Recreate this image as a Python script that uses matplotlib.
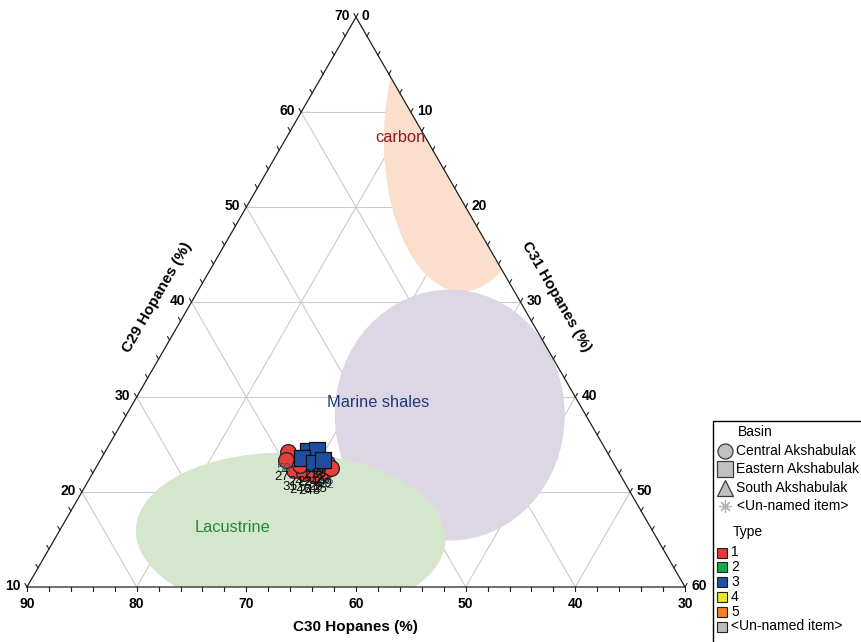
import numpy as np
import matplotlib
matplotlib.use("Agg")
import matplotlib.pyplot as plt
from matplotlib.patches import Ellipse, Polygon, Rectangle

# ---- hopane compositions (%), columns C30 / C29 / C31 ----
central_c30 = [59.1, 56.1, 59.5, 58.7, 57.9, 56.9, 56.0, 59.7, 58.7, 57.1]
central_c29 = [24.2, 23.1, 22.3, 22.0, 21.9, 22.1, 22.5, 23.4, 22.8, 22.7]
central_c31 = [16.7, 20.8, 18.2, 19.3, 20.2, 21.0, 21.5, 16.9, 18.5, 20.2]
central_ids = ["50", "23", "31", "246", "248", "25", "32", "27", "24", "240"]

eastern_c30 = [57.2, 56.4, 58.1, 57.3, 56.3]
eastern_c29 = [24.3, 24.4, 23.6, 23.1, 23.4]
eastern_c31 = [18.5, 19.2, 18.3, 19.6, 20.3]
eastern_ids = ["21", "28", "22", "26", "29"]

# source-rock fields: centre composition (C30, C29, C31)
field_names = ["carbon", "Marine shales", "Lacustrine"]
field_centres = [(26.8, 57.1, 16.1), (42.4, 28.1, 29.5), (63.2, 15.5, 21.3)]

basin_names = ["Central Akshabulak", "Eastern Akshabulak", "South Akshabulak", "<Un-named item>"]
type_names = ["1", "2", "3", "4", "5", "<Un-named item>"]
type_colors = ["#E53935", "#13A84B", "#1F4FA2", "#E6E62C", "#F0802C", "#BDBDBD"]

# ---- ternary frame: C30 90->30 along the base, C29 10->70 on the left, C31 0->60 on the right
C29_MIN, SPAN = 10.0, 60.0
H = np.sqrt(3) / 2
PX = 1 / 658.0  # one pixel in frame units


def to_xy(c30, c29, c31):
    c29 = np.asarray(c29, float)
    c31 = np.asarray(c31, float)
    u = (c29 - C29_MIN) / SPAN
    v = c31 / SPAN
    return v + 0.5 * u, H * u


fig = plt.figure(figsize=(8.61, 6.42), dpi=100)
ax = fig.add_axes([0, 0, 1, 1])
ax.set_xlim(-27 * PX, 834 * PX)
ax.set_ylim(-55 * PX, 587 * PX)
ax.axis("off")

tri = Polygon([(0, 0), (1, 0), (0.5, H)], closed=True, fill=False, edgecolor="none")
ax.add_patch(tri)

# grid
gcol = "#CBCBCB"
for k in range(20, 70, 10):      # constant C29
    x0, y0 = to_xy(100 - k, k, 0)
    x1, y1 = to_xy(30, k, 70 - k)
    ax.plot([x0, x1], [y0, y1], color=gcol, lw=0.8, zorder=1)
for k in range(40, 90, 10):      # constant C30
    x0, y0 = to_xy(k, 10, 90 - k)
    x1, y1 = to_xy(k, 100 - k, 0)
    ax.plot([x0, x1], [y0, y1], color=gcol, lw=0.8, zorder=1)
for k in range(10, 60, 10):      # constant C31
    x0, y0 = to_xy(90 - k, 10, k)
    x1, y1 = to_xy(30, 70 - k, k)
    ax.plot([x0, x1], [y0, y1], color=gcol, lw=0.8, zorder=1)

# source-rock fields
field_colors = ["#FCDECD", "#DDD6E5", "#D4E6CB"]
field_sizes = [(0.237, 0.462, 0), (0.3495, 0.3815, 0), (0.471, 0.249, -2)]
for (c30, c29, c31), col, (w, h, ang) in zip(field_centres, field_colors, field_sizes):
    cx, cy = to_xy(c30, c29, c31)
    e = Ellipse((cx, cy), w, h, angle=ang, facecolor=col, edgecolor="none", zorder=2)
    ax.add_patch(e)
    e.set_clip_path(tri)

# frame edges
ax.plot([0, 1, 0.5, 0], [0, 0, H, 0], color="#202020", lw=0.9, zorder=3)

# region labels
lab_font = ["Liberation Sans", "DejaVu Sans"]
cx, cy = to_xy(*field_centres[1])
ax.text(cx - 72 * PX, cy + 13 * PX, field_names[1], color="#1E3A7A", fontsize=11.8,
        family=lab_font, ha="center", va="center", zorder=4)
cx, cy = to_xy(*field_centres[2])
ax.text(cx - 58 * PX, cy + 7 * PX, field_names[2], color="#23883A", fontsize=11.8,
        family=lab_font, ha="center", va="center", zorder=4)
cx, cy = to_xy(*field_centres[0])
tc = ax.text(cx - 87 * PX, cy + 2 * PX, field_names[0], color="#8E1A1A", fontsize=11.8,
             family=lab_font, ha="left", va="center", zorder=4)
tc.set_clip_path(tri)

# ticks and tick labels
tick_font = ["Liberation Sans Narrow", "Liberation Sans", "DejaVu Sans"]
TL = 4 * PX
for val in range(30, 92, 2):     # base: C30
    x, y = to_xy(val, 10, 90 - val)
    ax.plot([x, x], [y, y - TL], color="#202020", lw=0.8, zorder=3)
    if val % 10 == 0:
        ax.text(x, y - 17 * PX, f"{val}", fontsize=10, fontweight="bold", family=tick_font,
                ha="center", va="center")
for val in range(10, 72, 2):     # left: C29
    x, y = to_xy(100 - val, val, 0)
    ax.plot([x, x - 0.5 * TL], [y, y + H * TL], color="#202020", lw=0.8, zorder=3)
    if val % 10 == 0:
        ax.text(x - 6 * PX, y + 1 * PX, f"{val}", fontsize=10, fontweight="bold", family=tick_font,
                ha="right", va="center")
for val in range(0, 62, 2):      # right: C31
    x, y = to_xy(30, 70 - val, val)
    ax.plot([x, x + 0.5 * TL], [y, y + H * TL], color="#202020", lw=0.8, zorder=3)
    if val % 10 == 0:
        ax.text(x + 6 * PX, y + 1 * PX, f"{val}", fontsize=10, fontweight="bold", family=tick_font,
                ha="left", va="center")

# axis titles
title_font = ["Liberation Sans", "DejaVu Sans"]
ax.text(328 * PX, -40 * PX, "C30 Hopanes (%)", fontsize=11, fontweight="bold",
        family=title_font, ha="center", va="center")
ax.text(130 * PX, 290 * PX, "C29 Hopanes (%)", fontsize=11, fontweight="bold",
        family=title_font, ha="center", va="center", rotation=60, rotation_mode="anchor")
ax.text(529 * PX, 290 * PX, "C31 Hopanes (%)", fontsize=11, fontweight="bold",
        family=title_font, ha="center", va="center", rotation=-60, rotation_mode="anchor")

# samples
xc, yc = to_xy(central_c30, central_c29, central_c31)
ax.scatter(xc, yc, s=11.3 ** 2, marker="o", facecolor="#E5403A", edgecolor="#202020",
           linewidth=0.9, zorder=5)
xe, ye = to_xy(eastern_c30, eastern_c29, eastern_c31)
ax.scatter(xe, ye, s=11.5 ** 2, marker="s", facecolor="#1F4EA0", edgecolor="#101010",
           linewidth=0.9, zorder=6)
lab_cols = ["#2C5F6E", "#111111", "#111111", "#111111", "#111111",
            "#111111", "#2C5F6E", "#111111", "#111111", "#111111"]
for x, y, s, c in zip(xc, yc, central_ids, lab_cols):
    ax.text(x - 4 * PX, y - 17 * PX, s, fontsize=9.5, color=c, family=lab_font,
            ha="center", va="center", zorder=7)
for x, y, s in zip(xe, ye, eastern_ids):
    ax.text(x + 2 * PX, y - 24 * PX, s, fontsize=9.5, color="#111111", family=lab_font,
            ha="center", va="center", zorder=7)

# legend panel (pixel coordinates)
lax = fig.add_axes([0, 0, 1, 1], zorder=10)
lax.set_xlim(0, 861)
lax.set_ylim(642, 0)
lax.axis("off")
lax.patch.set_alpha(0)
lax.add_patch(Rectangle((712.5, 420.5), 170, 240, facecolor="white", edgecolor="black", lw=1))
leg_font = ["Liberation Sans", "DejaVu Sans"]
lax.text(738, 432, "Basin", fontsize=10, family=leg_font, ha="left", va="center")
basin_markers = [dict(marker="o", ms=10.8), dict(marker="s", ms=11.5), dict(marker="^", ms=11.5)]
basin_y = [451, 469, 488, 506]
for name, yy, mk in zip(basin_names[:3], basin_y, basin_markers):
    lax.plot([724.5], [yy], linestyle="none", markerfacecolor="#C0C0C0",
             markeredgecolor="#3A3A3A", markeredgewidth=0.9, **mk)
    lax.text(736.5, yy, name, fontsize=10, family=leg_font, ha="left", va="center")
lax.plot([724.5], [basin_y[3]], linestyle="none", marker=(8, 2, 0), ms=9,
         markeredgecolor="#B5B5B5", markeredgewidth=0.9)
lax.text(737, basin_y[3], basin_names[3], fontsize=10, family=leg_font, ha="left", va="center")

lax.text(733, 532, "Type", fontsize=10, family=leg_font, ha="left", va="center")
type_y = [552.5, 567, 582, 597, 611.5, 626.5]
for name, yy, col in zip(type_names, type_y, type_colors):
    lax.plot([721.5], [yy], linestyle="none", marker="s", ms=7.4, markerfacecolor=col,
             markeredgecolor="#202020", markeredgewidth=0.8)
    lax.text(731, yy, name, fontsize=10, family=leg_font, ha="left", va="center")

fig.savefig("out.png", dpi=100)
